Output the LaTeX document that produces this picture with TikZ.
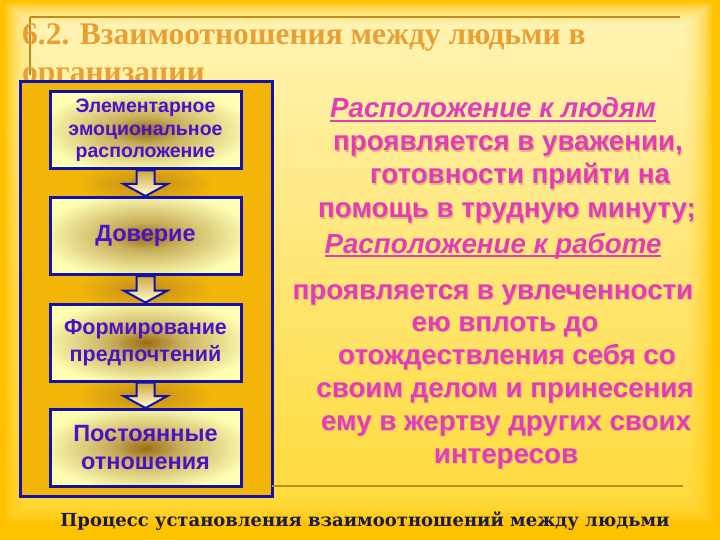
\documentclass[tikz,border=0pt]{standalone}
\usepackage{fontspec}
\setmainfont{Liberation Serif}
\newfontfamily\sansb{Liberation Sans}
\newfontfamily\capfont{DejaVu Serif}
\usetikzlibrary{calc}
\definecolor{bgout}{HTML}{FFC200}
\definecolor{bgtop}{HTML}{FFFFD4}
\definecolor{bgbot}{HTML}{FFE24A}
\definecolor{titlec}{HTML}{E8A035}
\definecolor{rulec}{HTML}{C08A20}
\definecolor{bigfill}{HTML}{F3B608}
\definecolor{gapglow}{HTML}{C08C1C}
\definecolor{blueb}{HTML}{1212A8}
\definecolor{boxtxt}{HTML}{4A12C8}
\definecolor{pinkt}{HTML}{E23CB8}
\definecolor{pshadow}{HTML}{E4B878}
\definecolor{capc}{HTML}{1C1C4C}
\definecolor{boxpale}{HTML}{FFFFB4}
\definecolor{glowc}{HTML}{9A6C12}
\definecolor{arrtop}{HTML}{D0A840}
\definecolor{arrbot}{HTML}{FFFFD8}
\pgfdeclareradialshading{boxglow}{\pgfpoint{0bp}{0bp}}{color(0bp)=(glowc); color(9bp)=(glowc!55!boxpale); color(28bp)=(boxpale); color(50bp)=(boxpale)}
\newcommand\ulin[1]{\setbox0\hbox{#1}\rlap{\rule[-4pt]{\wd0}{1.8pt}}\box0}
\newcommand\shtxt[1]{\rlap{\hspace{1.1pt}\raisebox{-1.1pt}{\color{pshadow}#1}}#1}
\tikzset{
  stagebox/.style={draw=blueb, line width=3pt, shading=boxglow, minimum width=191pt, minimum height=77pt, inner sep=0pt, align=center, text=boxtxt, font=\sansb\bfseries},
  barrow/.style={draw=blueb, line width=2pt, top color=arrtop, bottom color=arrbot, line join=miter},
  pline/.style={text=pinkt, font=\sansb\bfseries\fontsize{27.7}{32}\selectfont, anchor=base, inner sep=0pt},
  phead/.style={text=pinkt, font=\sansb\bfseries\itshape\fontsize{27.7}{32}\selectfont, anchor=base, inner sep=0pt},
  ttl/.style={text=titlec, font=\bfseries\fontsize{31.5}{34}\selectfont, anchor=base west, inner sep=0pt},
}
\newcommand\blockarr[2]{\draw[barrow] ($(#1.south)+(-9,0)$) -- ($(#2.north)+(-9,-12)$) -- ($(#2.north)+(-22,-12)$) -- (#2.north) -- ($(#2.north)+(22,-12)$) -- ($(#2.north)+(9,-12)$) -- ($(#1.south)+(9,0)$) -- cycle;}
\begin{document}
\begin{tikzpicture}[x=1pt,y=-1pt]
\useasboundingbox (0,0) rectangle (720,540);
% background
\fill[bgout] (0,0) rectangle (720,540);
\foreach \i in {0,...,11}{
  \shade[top color=bgtop, bottom color=bgbot, opacity=0.15] (6+2.5*\i,4+2*\i) rectangle (712-2.5*\i,522-2.5*\i);
}
% title
\draw[rulec, line width=1.5pt] (30,17) -- (680,17);
\draw[rulec, line width=1.5pt] (30,17) -- (30,75);
\node[ttl] (title1) at (22,45) {6.2. Взаимоотношения между людьми в};
\node[ttl] (title2) at (22,83) {организации};
% left panel
\draw[blueb, line width=3pt, fill=bigfill] (20,82) rectangle (272,496);
\foreach \gy in {183.5,289,395.5}{
  \shade[inner color=gapglow, outer color=bigfill] (145.5,\gy) ellipse [x radius=70pt, y radius=22pt];
}
\node[stagebox, font=\sansb\bfseries\fontsize{19.5}{22.5}\selectfont] (b1) at (145.5,130.5) {Элементарное\\эмоциональное\\расположение};
\node[stagebox, font=\sansb\bfseries\fontsize{23.5}{26}\selectfont] (b2) at (145.5,236) {Доверие};
\node[stagebox, font=\sansb\bfseries\fontsize{21.5}{27}\selectfont] (b3) at (145.5,342.5) {Формирование\\предпочтений};
\node[stagebox, font=\sansb\bfseries\fontsize{23.5}{28}\selectfont] (b4) at (145.5,448) {Постоянные\\отношения};
\blockarr{b1}{b2}
\blockarr{b2}{b3}
\blockarr{b3}{b4}
% right text
\node[phead] (t1) at (493,118) {\ulin{Расположение к людям}};
\node[pline] (t2) at (508,151) {\shtxt{проявляется в уважении,}};
\node[pline] (t3) at (520,184) {\shtxt{готовности прийти на}};
\node[pline] (t4) at (507,218) {\shtxt{помощь в трудную минуту;}};
\node[phead] (t5) at (493,253) {\ulin{Расположение к работе}};
\node[pline] (t6) at (493,299) {\shtxt{проявляется в увлеченности}};
\node[pline] (t7) at (505,331) {\shtxt{ею вплоть до}};
\node[pline] (t8) at (507,364) {\shtxt{отождествления себя со}};
\node[pline] (t9) at (505,397) {\shtxt{своим делом и принесения}};
\node[pline] (t10) at (506,430) {\shtxt{ему в жертву других своих}};
\node[pline] (t11) at (506,463) {\shtxt{интересов}};
% bottom rule and caption
\draw[rulec, line width=1.2pt] (272,486) -- (683,486);
\node[text=capc, font=\capfont\bfseries\fontsize{18}{22}\selectfont, anchor=base, inner sep=0pt] (cap) at (365,526) {Процесс установления взаимоотношений между людьми};
\end{tikzpicture}
\end{document}
